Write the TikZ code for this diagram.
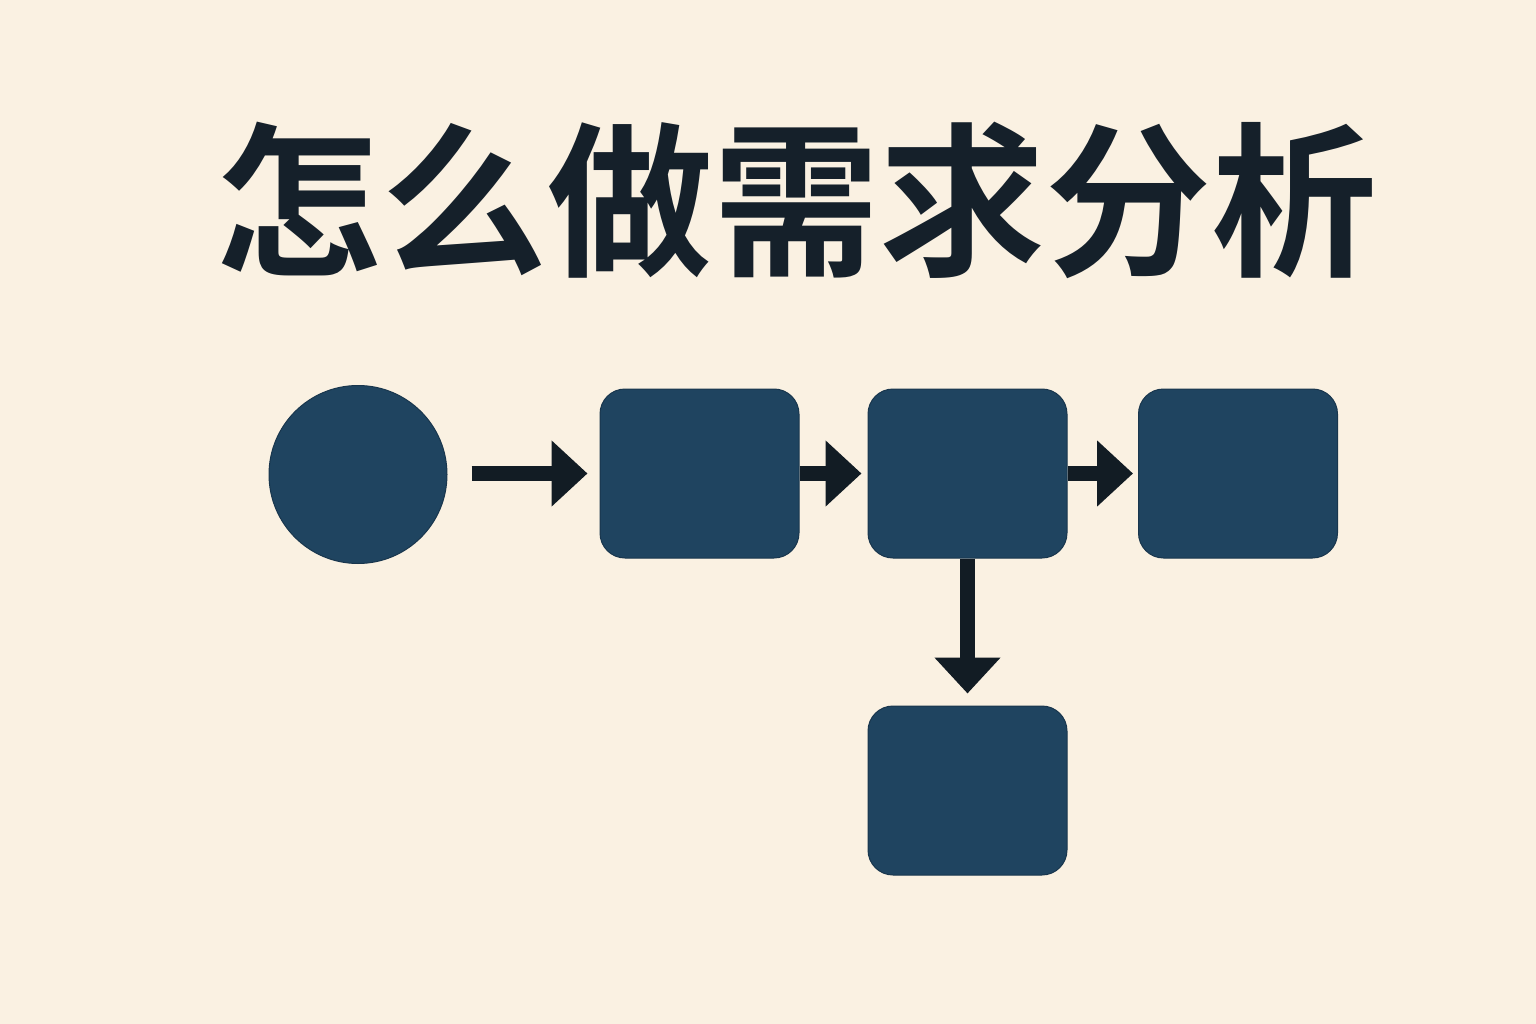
\documentclass[tikz,border=0pt]{standalone}
\usepackage{fontspec}
\newfontfamily\cjkbold{Noto Sans CJK SC Bold}
\usetikzlibrary{arrows.meta}
\definecolor{bgcol}{HTML}{FAF1E2}
\definecolor{boxcol}{HTML}{1F4460}
\definecolor{arrowcol}{HTML}{121C24}
\definecolor{titlecol}{HTML}{15202A}
\tikzset{
  stepbox/.style={draw=boxcol!80!black, line width=1pt, fill=boxcol, rounded corners=25pt,
    minimum width=199pt, minimum height=169pt, inner sep=0pt},
  startnode/.style={circle, draw=boxcol!80!black, line width=1pt, fill=boxcol, minimum size=178pt, inner sep=0pt},
  flow/.style={draw=arrowcol, line width=15pt, -{Triangle[length=36pt,width=64pt]}},
}
\begin{document}
\begin{tikzpicture}[x=1pt,y=-1pt]
\useasboundingbox[fill=bgcol] (0,0) rectangle (1536,1024);
\node[text=titlecol, font=\cjkbold\fontsize{166}{166}\selectfont, inner sep=0pt] (title) at (796,200) {怎么做需求分析};
\node[startnode] (start) at (358,474.5) {};
\node[stepbox] (b1) at (699.5,473.5) {};
\node[stepbox] (b2) at (967.5,473.5) {};
\node[stepbox] (b3) at (1238,473.5) {};
\node[stepbox] (b4) at (967.5,790.5) {};
\draw[flow, shorten <=24pt, shorten >=12pt] (start.east |- b1.west) -- (b1.west);
\draw[flow, shorten >=6pt] (b1.east) -- (b2.west);
\draw[flow, shorten >=5pt] (b2.east) -- (b3.west);
\draw[flow, shorten >=12pt] (b2.south) -- (b4.north);
\end{tikzpicture}
\end{document}
